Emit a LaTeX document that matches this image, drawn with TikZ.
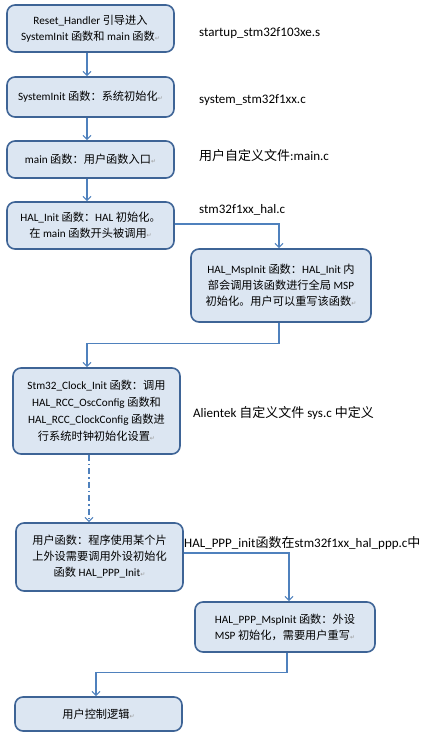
\documentclass[tikz,border=0pt]{standalone}
\usepackage{fontspec}
\setmainfont{Carlito}
\newfontfamily\cjk{Noto Sans CJK SC}
\newfontfamily\dejavu{DejaVu Sans}
\usetikzlibrary{arrows.meta}
\newcommand\zh[1]{{\cjk #1}}
\newcommand\retmark{{\color{black!40}\dejavu\fontsize{6}{6}\selectfont ↵}}
\definecolor{boxfill}{HTML}{DCE6F2}
\definecolor{boxline}{HTML}{3E6496}
\definecolor{arrowc}{HTML}{4F81BD}
\begin{document}
\begin{tikzpicture}[x=1pt,y=-1pt,
  flowbox/.style={draw=boxline, line width=1.6pt, fill=boxfill, rounded corners=8pt,
    align=center, inner sep=2pt, font=\fontsize{11.2}{16}\selectfont},
  flowarrow/.style={draw=arrowc, line width=1.2pt, -{Straight Barb[length=4pt,width=8pt]}},
  sidelabel/.style={anchor=west, inner sep=0pt, font=\fontsize{13}{15}\selectfont}]
\useasboundingbox (0,0) rectangle (435,740);

\node[flowbox, minimum width=167, minimum height=47] (b1) at (90.5,28.5)
  {Reset\_Handler \zh{引导进入}\\SystemInit \zh{函数和} main \zh{函数}\retmark};
\node[flowbox, minimum width=167, minimum height=40] (b2) at (90.5,97)
  {SystemInit \zh{函数：系统初始化}\retmark};
\node[flowbox, minimum width=167, minimum height=37] (b3) at (90.5,159.5)
  {main \zh{函数：用户函数入口}\retmark};
\node[flowbox, minimum width=167, minimum height=47] (b4) at (90.5,225.5)
  {HAL\_Init \zh{函数：}HAL \zh{初始化。}\\\zh{在} main \zh{函数开头被调用}\retmark};
\node[flowbox, minimum width=180, minimum height=73] (b5) at (281,285.5)
  {HAL\_MspInit \zh{函数：}HAL\_Init \zh{内}\\\zh{部会调用该函数进行全局} MSP\\\zh{初始化。用户可以重写该函数}\retmark};
\node[flowbox, minimum width=167, minimum height=86, font=\fontsize{11.2}{17}\selectfont] (b6) at (96.5,411)
  {Stm32\_Clock\_Init \zh{函数：调用}\\HAL\_RCC\_OscConfig \zh{函数和}\\HAL\_RCC\_ClockConfig \zh{函数进}\\\zh{行系统时钟初始化设置}\retmark};
\node[flowbox, minimum width=167, minimum height=68] (b7) at (99.5,557)
  {\zh{用户函数：程序使用某个片}\\\zh{上外设需要调用外设初始化}\\\zh{函数} HAL\_PPP\_Init\retmark};
\node[flowbox, minimum width=180, minimum height=50] (b8) at (285,627)
  {HAL\_PPP\_MspInit \zh{函数：外设}\\MSP \zh{初始化，需要用户重写}\retmark};
\node[flowbox, minimum width=167, minimum height=34] (b9) at (98.5,714)
  {\zh{用户控制逻辑}\retmark};

\node[sidelabel] (l1) at (199,33) {startup\_stm32f103xe.s};
\node[sidelabel] (l2) at (199,100) {system\_stm32f1xx.c};
\node[sidelabel] (l3) at (199,156) {\zh{用户自定义文件}:main.c};
\node[sidelabel] (l4) at (199,210) {stm32f1xx\_hal.c};
\node[sidelabel] (l5) at (193,413) {Alientek \zh{自定义文件} sys.c \zh{中定义}};
\node[sidelabel] (l6) at (184,543) {HAL\_PPP\_init\zh{函数在}stm32f1xx\_hal\_ppp.c\zh{中}};

\draw[flowarrow] ([xshift=-3.5pt]b1.south) -- ([xshift=-3.5pt]b2.north);
\draw[flowarrow] ([xshift=-3.5pt]b2.south) -- ([xshift=-3.5pt]b3.north);
\draw[flowarrow] ([xshift=-3.5pt]b3.south) -- ([xshift=-3.5pt]b4.north);
\draw[flowarrow] ([yshift=1.5pt]b4.east) -| ([xshift=-2pt]b5.north);
\draw[flowarrow] ([xshift=-2pt]b5.south) -- ++(0,21) -| ([xshift=-9.5pt]b6.north);
\draw[flowarrow, dash pattern=on 6pt off 3pt on 1.5pt off 3pt] ([xshift=-7.5pt]b6.south) -- ([xshift=-10.5pt]b7.north);
\draw[flowarrow] ([yshift=4pt]b7.east) -| ([xshift=4pt]b8.north);
\draw[flowarrow] ([xshift=2pt]b8.south) -- ++(0,20) -| ([xshift=-2.5pt]b9.north);
\end{tikzpicture}
\end{document}
